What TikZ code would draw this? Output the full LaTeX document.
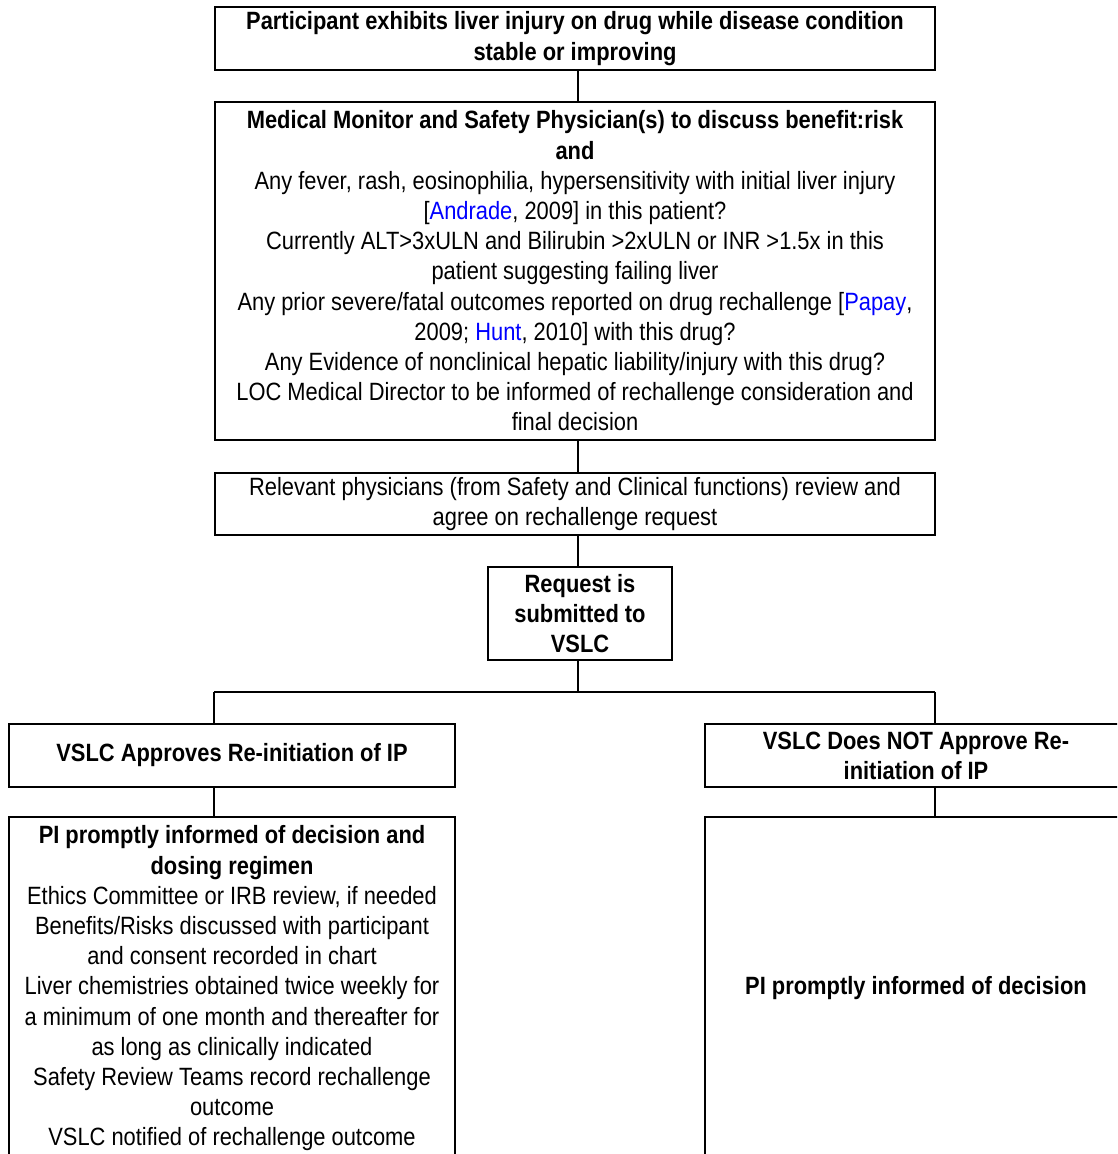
\documentclass[tikz,border=0pt]{standalone}
\usepackage{fontspec}
\setmainfont{Liberation Sans}[FakeStretch=0.875]
\usepackage{xcolor}
\usepackage{tikz}
\usetikzlibrary{calc,positioning}
\definecolor{linec}{HTML}{000000}
\definecolor{linkc}{HTML}{0000FF}
\tikzset{
  box/.style={draw=linec,line width=2.6pt,fill=white,align=center,inner sep=0pt,
    font=\fontsize{25}{30.2}\selectfont},
  ln/.style={draw=linec,line width=1.7pt}
}
\newcommand{\cit}[1]{\textcolor{linkc}{#1}}
\begin{document}
\begin{tikzpicture}[x=1pt,y=-1pt]
\useasboundingbox (0,0) rectangle (1117,1154);
\clip (0,0) rectangle (1117,1154);
\node[box,minimum width=720pt,minimum height=63pt] (onset) at (575,38.5)
  {\textbf{Participant exhibits liver injury on drug while disease condition}\\
   \textbf{stable or improving}};
\node[box,minimum width=720pt,minimum height=338pt] (review) at (575,271)
  {\textbf{Medical Monitor and Safety Physician(s) to discuss benefit:risk}\\
   \textbf{and}\\
   Any fever, rash, eosinophilia, hypersensitivity with initial liver injury\\
   {[}\cit{Andrade}, 2009] in this patient?\\
   Currently ALT>3xULN and Bilirubin >2xULN or INR >1.5x in this\\
   patient suggesting failing liver\\
   Any prior severe/fatal outcomes reported on drug rechallenge [\cit{Papay},\\
   2009; \cit{Hunt}, 2010] with this drug?\\
   Any Evidence of nonclinical hepatic liability/injury with this drug?\\
   LOC Medical Director to be informed of rechallenge consideration and\\
   final decision};
\node[box,minimum width=720pt,minimum height=62pt] (agree) at (575,504)
  {Relevant physicians (from Safety and Clinical functions) review and\\
   agree on rechallenge request};
\node[box,minimum width=184pt,minimum height=93pt] (submit) at (580,613.5)
  {\textbf{Request is}\\ \textbf{submitted to}\\ \textbf{VSLC}};
\node[box,minimum width=446pt,minimum height=63pt] (yes) at (232,755.5)
  {\textbf{VSLC Approves Re-initiation of IP}};
\node[box,minimum width=422pt,minimum height=63pt] (no) at (916,755.5)
  {\textbf{VSLC Does NOT Approve Re-}\\ \textbf{initiation of IP}};
\node[box,minimum width=446pt,minimum height=343pt] (yesact) at (232,988.5)
  {\textbf{PI promptly informed of decision and}\\
   \textbf{dosing regimen}\\
   Ethics Committee or IRB review, if needed\\
   Benefits/Risks discussed with participant\\
   and consent recorded in chart\\
   Liver chemistries obtained twice weekly for\\
   a minimum of one month and thereafter for\\
   as long as clinically indicated\\
   Safety Review Teams record rechallenge\\
   outcome\\
   VSLC notified of rechallenge outcome};
\node[box,minimum width=422pt,minimum height=343pt] (noact) at (916,988.5)
  {\textbf{PI promptly informed of decision}};
\coordinate (split) at (578,692);
\coordinate (jl) at (214,692);
\coordinate (jr) at (935,692);
\draw[ln] (onset.south -| split) -- (review.north -| split);
\draw[ln] (review.south -| split) -- (agree.north -| split);
\draw[ln] (agree.south -| split) -- (submit.north -| split);
\draw[ln] (submit.south -| split) -- (split);
\draw[ln] (jl) -- (jr);
\draw[ln] (jl) -- (jl |- yes.north);
\draw[ln] (jr) -- (jr |- no.north);
\draw[ln] (yes.south -| jl) -- (yesact.north -| jl);
\draw[ln] (no.south -| jr) -- (noact.north -| jr);
\end{tikzpicture}
\end{document}
